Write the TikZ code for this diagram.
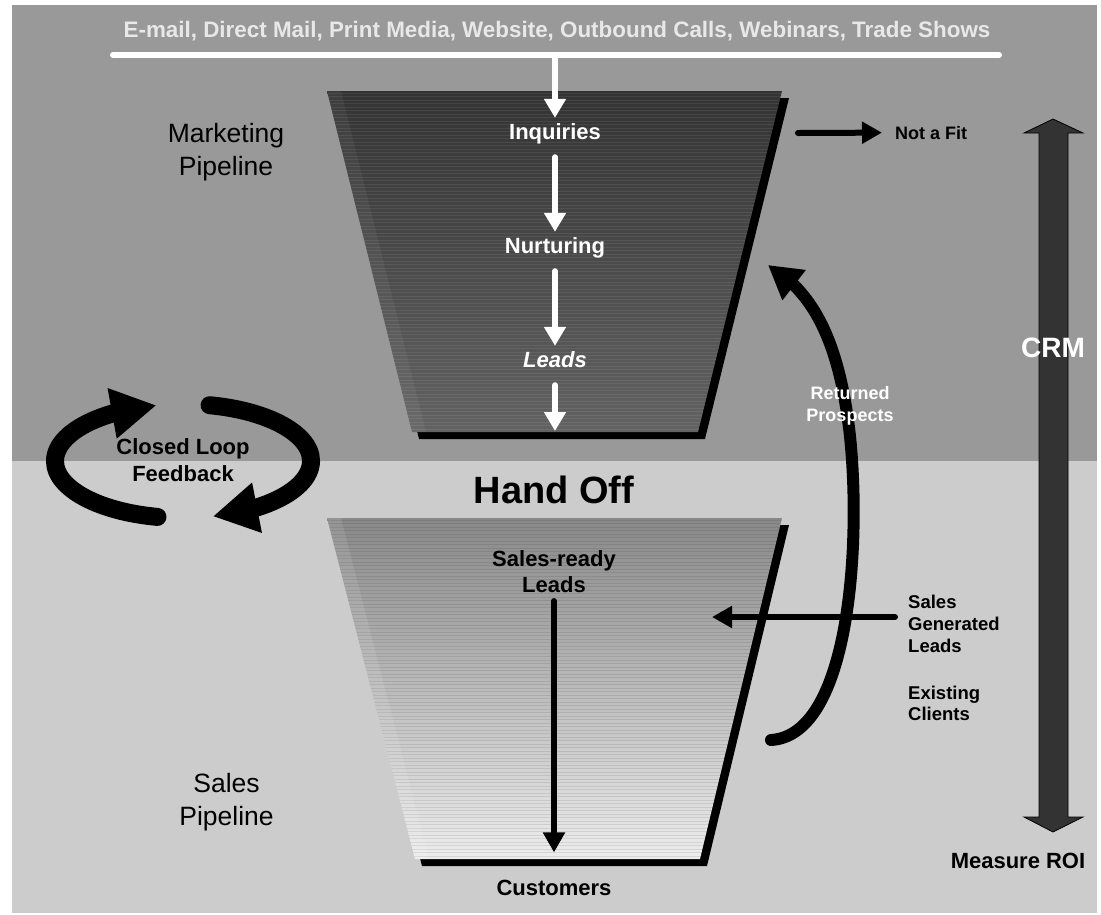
\documentclass[tikz,border=0pt]{standalone}
\usepackage{fontspec}
\setmainfont{Liberation Sans}
\usetikzlibrary{arrows.meta,bending}
\definecolor{bgtop}{HTML}{999999}
\definecolor{bgbot}{HTML}{CCCCCC}
\definecolor{toptext}{HTML}{E8E8E8}
\definecolor{fuA}{HTML}{333333}
\definecolor{fuB}{HTML}{626262}
\definecolor{flA}{HTML}{888888}
\definecolor{flB}{HTML}{EDEDED}
\definecolor{crmfill}{HTML}{333333}
\begin{document}
\begin{tikzpicture}[x=1pt,y=-1pt,
  lbl/.style={inner sep=0pt, font=\bfseries\fontsize{22}{26.5}\selectfont},
  wlbl/.style={lbl, text=white, text height=16pt, text depth=5pt, anchor=base},
  smalllbl/.style={inner sep=0pt, font=\bfseries\fontsize{18}{22}\selectfont},
  pipelbl/.style={inner sep=0pt, anchor=north, align=center, font=\fontsize{26.5}{33}\selectfont},
  warrow/.style={draw=white, line width=6pt, line cap=round, -{Triangle[length=19pt,width=21pt]}},
  barrow/.style={draw=black, line width=6pt, line cap=round, -{Triangle[length=20pt,width=21pt]}},
  looparrow/.style={draw=black, line width=18pt, line cap=round, -{Triangle[length=45pt,width=48pt]}},
  retarrow/.style={draw=black, line width=12pt, line cap=round, -{Triangle[length=33pt,width=36pt]}},
]
\useasboundingbox (0,0) rectangle (1101,914);
\fill[white] (0,0) rectangle (1101,914);
\fill[bgtop] (12,5) rectangle (1097,461);
\fill[bgbot] (12,461) rectangle (1097,913);

% ---------- upper funnel ----------
\fill[black] (334,98) -- (789,98) -- (705,439) -- (419,439) -- cycle;
\shade[top color=fuA, bottom color=fuB] (327,91) -- (782,91) -- (698,432) -- (412,432) -- cycle;
\begin{scope}
  \clip (327,91) -- (782,91) -- (698,432) -- (412,432) -- cycle;
  \foreach \y in {93,96.5,...,432} \draw[white, opacity=0.08, line width=1pt] (320,\y) -- (790,\y);
  \fill[white, opacity=0.05] (327,91) -- (341,91) -- (426,432) -- (412,432) -- cycle;
\end{scope}

% ---------- lower funnel ----------
\fill[black] (334,525) -- (789,525) -- (707,866) -- (422,866) -- cycle;
\shade[top color=flA, bottom color=flB] (327,518) -- (782,518) -- (700,859) -- (415,859) -- cycle;
\begin{scope}
  \clip (327,518) -- (782,518) -- (700,859) -- (415,859) -- cycle;
  \foreach \y in {520,523.5,...,859} \draw[black, opacity=0.09, line width=1pt] (320,\y) -- (790,\y);
  \fill[white, opacity=0.1] (327,518) -- (341,518) -- (429,859) -- (415,859) -- cycle;
\end{scope}

% ---------- CRM double arrow ----------
\filldraw[fill=crmfill, draw=black, line width=0.8pt]
  (1053,119) -- (1083,133) -- (1068,133) -- (1068,817) -- (1083,817) -- (1053,832)
  -- (1024,817) -- (1039,817) -- (1039,133) -- (1024,133) -- cycle;

% ---------- coordinates ----------
\coordinate (barL) at (113,55);
\coordinate (barR) at (999,55);
\coordinate (bartap) at (555,55);
\coordinate (ufb) at (555,431);
\coordinate (nfs) at (798,133);
\coordinate (sgs) at (895,617);
\coordinate (sge) at (712,617);
\coordinate (rps) at (771,740);
\coordinate (rpm) at (848,420);
\coordinate (rpe) at (768,265);
\coordinate (cl1) at (157.5,516.9);
\coordinate (cl2) at (209.6,405.2);

% ---------- curved arrows (under the text) ----------
\draw[retarrow] (rps) .. controls (855,735) and (862,520) .. (rpm) .. controls (836,334) and (810,290) .. (rpe);
\draw[looparrow] (cl1) arc[start angle=101.5, end angle=258, x radius=128, y radius=57];
\draw[looparrow] (cl2) arc[start angle=282, end angle=436.5, x radius=128, y radius=57];
\draw[barrow] (sgs) -- (sge);
\draw[white, line width=6pt, line cap=round] (barL) -- (barR);

% ---------- texts ----------
\node[anchor=base, inner sep=0pt, text=toptext, font=\bfseries\fontsize{22.4}{26}\selectfont] (src) at (557,37)
  {E-mail, Direct Mail, Print Media, Website, Outbound Calls, Webinars, Trade Shows};
\node[wlbl] (inq) at (555,139.5) {Inquiries};
\node[wlbl] (nur) at (555,253) {Nurturing};
\node[wlbl, font=\bfseries\itshape\fontsize{22}{26.5}\selectfont] (leads) at (555,367) {Leads};
\node[pipelbl] (mkt) at (226,123) {Marketing\\Pipeline};
\node[pipelbl] (spl) at (226.5,773) {Sales\\Pipeline};
\node[lbl, anchor=north, align=center, font=\bfseries\fontsize{22}{27}\selectfont] (clf) at (183,438) {Closed Loop\\Feedback};
\node[inner sep=0pt, anchor=base, font=\bfseries\fontsize{38}{44}\selectfont] (hand) at (554,503) {Hand Off};
\node[lbl, anchor=north, align=center] (srl) at (554,550) {Sales-ready\\Leads};
\node[lbl, anchor=base] (cust) at (554,895) {Customers};
\node[smalllbl, anchor=base west] (nf) at (895,139) {Not a Fit};
\node[smalllbl, anchor=north, align=center, text=white] (ret) at (850,386) {Returned\\Prospects};
\node[smalllbl, anchor=north west, align=left, font=\bfseries\fontsize{18.5}{22}\selectfont] (sgl) at (908,595) {Sales\\Generated\\Leads};
\node[smalllbl, anchor=north west, align=left, font=\bfseries\fontsize{18.5}{21}\selectfont] (exc) at (908,686) {Existing\\Clients};
\node[inner sep=0pt, anchor=base, text=white, font=\bfseries\fontsize{28}{32}\selectfont] (crm) at (1053,357) {CRM};
\node[lbl, anchor=base] (roi) at (1018,868) {Measure ROI};

% ---------- connectors between nodes ----------
\draw[warrow, shorten >=5.5pt] (bartap) -- (inq.north);
\draw[warrow, shorten <=12.5pt, shorten >=5pt] (inq.south) -- (nur.north);
\draw[warrow, shorten <=13pt, shorten >=5pt] (nur.south) -- (leads.north);
\draw[warrow, shorten <=13pt] (leads.south) -- (ufb);
\draw[barrow, shorten >=13pt] (nfs) -- (nf.west);
\draw[barrow, shorten <=8pt, shorten >=27pt] (srl.south) -- (cust.north);
\end{tikzpicture}
\end{document}
